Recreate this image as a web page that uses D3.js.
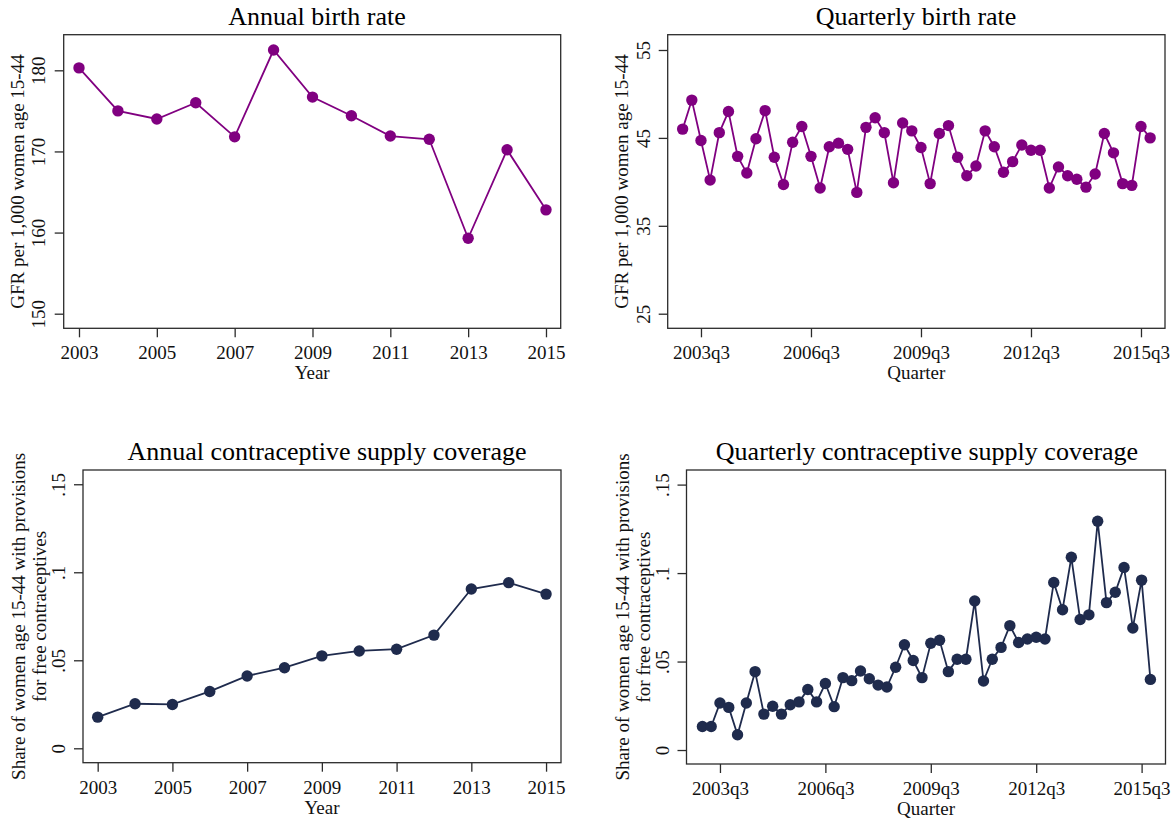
<!DOCTYPE html>
<html>
<head>
<meta charset="utf-8">
<script src="https://cdn.jsdelivr.net/npm/d3@7"></script>
<style>
    body { margin: 0; background: #fff; }
    svg { font-family: "Liberation Serif", "Times New Roman", serif; }
    .tick line { stroke: #2b2b2b; stroke-width: 1.3; }
</style>
</head>
<body>
<div id="chart"></div>
<script>
// Data
const years = [2003, 2004, 2005, 2006, 2007, 2008, 2009, 2010, 2011, 2012, 2013, 2014, 2015];
const annualBirth = [180.3, 175.0, 174.0, 176.0, 171.8, 182.5, 176.7, 174.4, 171.9, 171.5, 159.3, 170.2, 162.8];

const quarters = [];
years.forEach(y => { for (let q = 1; q <= 4; q++) quarters.push(y + "q" + q); });

const quarterlyBirth = [
    46.0, 49.3, 44.7, 40.2,  45.6, 48.0, 42.9, 41.0,  44.9, 48.1, 42.8, 39.7,
    44.5, 46.3, 42.9, 39.3,  44.0, 44.4, 43.7, 38.8,  46.2, 47.3, 45.6, 39.9,
    46.7, 45.8, 43.9, 39.8,  45.5, 46.4, 42.8, 40.7,  41.8, 45.8, 44.0, 41.1,
    42.3, 44.2, 43.6, 43.6,  39.3, 41.7, 40.7, 40.3,  39.4, 40.9, 45.5, 43.3,
    39.8, 39.6, 46.3, 45.0
];

const annualCoverage = [0.0177, 0.0253, 0.0249, 0.0323, 0.0411, 0.0458, 0.0525, 0.0553, 0.0563, 0.0643, 0.0905, 0.0941, 0.0876];

const quarterlyCoverage = [
    0.0133, 0.0133, 0.0266, 0.0241,  0.0086, 0.0266, 0.0443, 0.0203,  0.0247, 0.0203, 0.0256, 0.0272,
    0.0342, 0.0272, 0.0376, 0.0245,  0.0409, 0.0392, 0.0447, 0.0403,  0.0367, 0.0356, 0.0468, 0.0595,
    0.0506, 0.0409, 0.0603, 0.0620,  0.0443, 0.0513, 0.0513, 0.0842,  0.0390, 0.0513, 0.0580, 0.0703,
    0.0608, 0.0627, 0.0637, 0.0627,  0.0947, 0.0793, 0.1089, 0.0738,  0.0764, 0.1293, 0.0833, 0.0892,
    0.1032, 0.0690, 0.0960, 0.0399
];

const yearTicks = [2003, 2005, 2007, 2009, 2011, 2013, 2015];
const quarterTicks = ["2003q3", "2006q3", "2009q3", "2012q3", "2015q3"];
const birthTicks = [150, 160, 170, 180];
const quarterBirthTicks = [25, 35, 45, 55];
const coverageTicks = [0, 0.05, 0.1, 0.15];

const purple = "#800080";
const navy = "#1f2b4d";
const serif = "'Liberation Serif', 'Times New Roman', serif";

const svg = d3.select("#chart").append("svg")
    .attr("width", 1175)
    .attr("height", 820);

function fmtShare(d) {
    return d === 0 ? "0" : String(d).replace(/^0/, "");
}

function drawPanel(p) {
    let g = svg.append("g");

    let x = d3.scaleLinear().domain(p.xDomain).range([p.left, p.right]);
    let y = d3.scaleLinear().domain(p.yDomain).range([p.bottom, p.top]);

    // Title
    g.append("text")
        .attr("x", p.titleX)
        .attr("y", p.titleY)
        .attr("text-anchor", "middle")
        .style("font-family", serif)
        .style("font-size", "26px")
        .attr("fill", "#000")
        .text(p.title);

    // Y axis (labels rotated like Stata)
    let yAxis = d3.axisLeft(y).tickValues(p.yTicks).tickSize(9).tickFormat(p.yFormat || d3.format("d"));
    g.append("g")
        .attr("transform", `translate(${p.left},0)`)
        .call(yAxis)
        .call(a => a.select(".domain").remove())
        .selectAll("text")
        .attr("transform", "rotate(-90)")
        .attr("x", 0)
        .attr("y", -p.yLabelOffset)
        .attr("dy", 0)
        .attr("fill", "#111")
        .style("font-family", serif)
        .style("font-size", "19px")
        .style("text-anchor", "middle");

    // X axis
    let xAxis = d3.axisBottom(x).tickValues(p.xTicks).tickSize(9).tickFormat(p.xFormat);
    g.append("g")
        .attr("transform", `translate(0,${p.bottom})`)
        .call(xAxis)
        .call(a => a.select(".domain").remove())
        .selectAll("text")
        .attr("y", 31)
        .attr("dy", 0)
        .attr("fill", "#111")
        .style("font-family", serif)
        .style("font-size", "19px");

    // Frame
    g.append("rect")
        .attr("x", p.left)
        .attr("y", p.top)
        .attr("width", p.right - p.left)
        .attr("height", p.bottom - p.top)
        .attr("fill", "none")
        .attr("stroke", "#2b2b2b")
        .attr("stroke-width", 1.3);

    // Axis titles
    p.yTitle.forEach((line, i) => {
        g.append("text")
            .attr("transform", `translate(${p.yTitleX + i * 21},${(p.top + p.bottom) / 2}) rotate(-90)`)
            .attr("text-anchor", "middle")
            .style("font-family", serif)
            .style("font-size", "19px")
            .attr("fill", "#111")
            .text(line);
    });
    g.append("text")
        .attr("x", (p.left + p.right) / 2)
        .attr("y", p.bottom + 51)
        .attr("text-anchor", "middle")
        .style("font-family", serif)
        .style("font-size", "19px")
        .attr("fill", "#111")
        .text(p.xTitle);

    // Line and markers
    let pts = p.values.map((v, i) => [p.xVals[i], v]);
    g.append("path")
        .datum(pts)
        .attr("fill", "none")
        .attr("stroke", p.color)
        .attr("stroke-width", 1.8)
        .attr("d", d3.line().x(d => x(d[0])).y(d => y(d[1])));
    g.selectAll(".pt")
        .data(pts)
        .enter()
        .append("circle")
        .attr("class", "pt")
        .attr("cx", d => x(d[0]))
        .attr("cy", d => y(d[1]))
        .attr("r", 5.7)
        .attr("fill", p.color);
}

const qIdx = quarters.map((q, i) => i);
const quarterTickIdx = quarterTicks.map(q => quarters.indexOf(q));

drawPanel({
    title: "Annual birth rate", titleX: 317, titleY: 25,
    left: 63.7, right: 560.7, top: 34.7, bottom: 328.3,
    xDomain: [2002.607, 2015.378], yDomain: [148.2, 184.39],
    xVals: years, values: annualBirth, color: purple,
    xTicks: yearTicks, xFormat: d3.format("d"),
    yTicks: birthTicks, yLabelOffset: 18.7,
    yTitle: ["GFR per 1,000 women age 15-44"], yTitleX: 24,
    xTitle: "Year"
});

drawPanel({
    title: "Quarterly birth rate", titleX: 916, titleY: 25,
    left: 667.7, right: 1165, top: 34.7, bottom: 328.3,
    xDomain: [-1.63, 52.62], yDomain: [23.34, 56.74],
    xVals: qIdx, values: quarterlyBirth, color: purple,
    xTicks: quarterTickIdx, xFormat: i => quarters[i],
    yTicks: quarterBirthTicks, yLabelOffset: 17.7,
    yTitle: ["GFR per 1,000 women age 15-44"], yTitleX: 628,
    xTitle: "Quarter"
});

drawPanel({
    title: "Annual contraceptive supply coverage", titleX: 327, titleY: 459.5,
    left: 83, right: 561, top: 470, bottom: 762.7,
    xDomain: [2002.607, 2015.40], yDomain: [-0.00818, 0.1581],
    xVals: years, values: annualCoverage, color: navy,
    xTicks: yearTicks, xFormat: d3.format("d"),
    yTicks: coverageTicks, yFormat: fmtShare, yLabelOffset: 18,
    yTitle: ["Share of women age 15-44 with provisions", "for free contraceptives"], yTitleX: 25,
    xTitle: "Year"
});

drawPanel({
    title: "Quarterly contraceptive supply coverage", titleX: 927, titleY: 459.5,
    left: 686.5, right: 1165.5, top: 470, bottom: 764,
    xDomain: [-1.81, 52.72], yDomain: [-0.0079, 0.15825],
    xVals: qIdx, values: quarterlyCoverage, color: navy,
    xTicks: quarterTickIdx, xFormat: i => quarters[i],
    yTicks: coverageTicks, yFormat: fmtShare, yLabelOffset: 17.5,
    yTitle: ["Share of women age 15-44 with provisions", "for free contraceptives"], yTitleX: 629,
    xTitle: "Quarter"
});
</script>
</body>
</html>
